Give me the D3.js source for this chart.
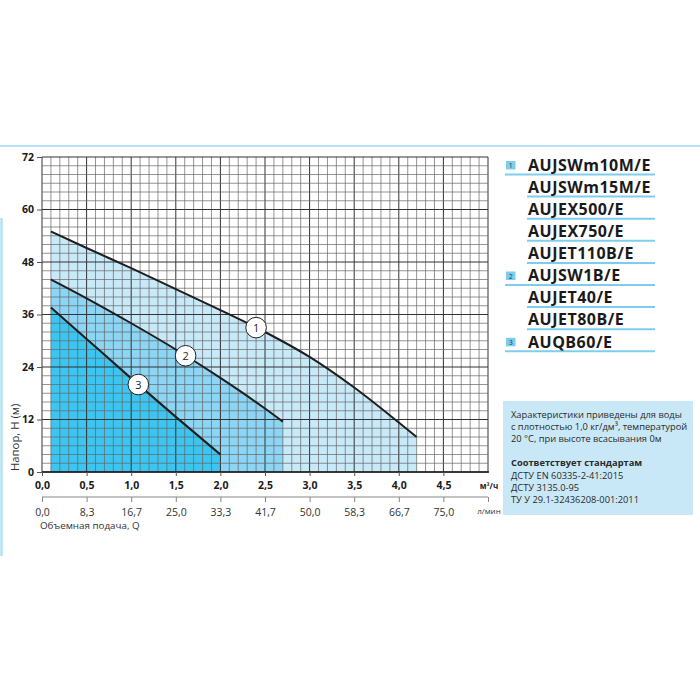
<!DOCTYPE html>
<html>
<head>
<meta charset="utf-8">
<script src="https://cdn.jsdelivr.net/npm/d3@7"></script>
<style>
  body { margin: 0; background: white; }
  text { font-family: 'Open Sans', sans-serif; }
</style>
</head>
<body>
<div id="chart"></div>
<script>
const curve1Q = [0.1, 0.5, 1.0, 1.5, 2.0, 2.5, 3.0, 3.5, 4.0, 4.2];
const curve1H = [55, 51.2, 46.6, 41.8, 37, 32, 26.3, 19.3, 11.3, 8];
const curve2Q = [0.1, 0.5, 1.0, 1.5, 2.0, 2.5, 2.7];
const curve2H = [44, 39.7, 34, 28, 21.5, 14.5, 11.5];
const curve3Q = [0.1, 0.5, 1.0, 1.5, 2.0];
const curve3H = [37.6, 30.4, 21.4, 12.6, 4];

const curveLabels = ['1', '2', '3'];
const labelQ = [2.4, 1.61, 1.08];

const yTicks = [0, 12, 24, 36, 48, 60, 72];
const xTicks = [0, 0.5, 1.0, 1.5, 2.0, 2.5, 3.0, 3.5, 4.0, 4.5];
const lminTicks = [0, 0.5, 1.0, 1.5, 2.0, 2.5, 3.0, 3.5, 4.0, 4.5, 5.0];
const lminLabels = ['0,0', '8,3', '16,7', '25,0', '33,3', '41,7', '50,0', '58,3', '66,7', '75,0', ''];

const models = ['AUJSWm10M/E', 'AUJSWm15M/E', 'AUJEX500/E', 'AUJEX750/E', 'AUJET110B/E',
  'AUJSW1B/E', 'AUJET40/E', 'AUJET80B/E', 'AUQB60/E'];
const modelGroup = ['1', '', '', '', '', '2', '', '', '3'];

const noteLines = ['Характеристики приведены для воды', 'с плотностью 1,0 кг/дм³, температурой',
  '20 °C, при высоте всасывания 0м', '', 'Соответствует стандартам',
  'ДСТУ EN 60335-2-41:2015', 'ДСТУ 3135.0-95', 'ТУ У 29.1-32436208-001:2011'];

const w = 700;
const h = 700;
const padL = 42, padR = 488, padT = 157, padB = 472;

const svg = d3.select('#chart').append('svg').attr('width', w).attr('height', h);

const xScale = d3.scaleLinear().domain([0, 5]).range([padL, padR]);
const yScale = d3.scaleLinear().domain([0, 72]).range([padB, padT]);

// frame lines
svg.append('line').attr('x1', 0).attr('x2', w).attr('y1', 146).attr('y2', 146)
  .attr('stroke', '#b3e1f5').attr('stroke-width', 2);
svg.append('line').attr('x1', 1.5).attr('x2', 1.5).attr('y1', 218).attr('y2', 556)
  .attr('stroke', '#b3e1f5').attr('stroke-width', 2.5);

const series = [
  { q: curve1Q, h: curve1H, fill: '#c8e9f8' },
  { q: curve2Q, h: curve2H, fill: '#8cd5f4' },
  { q: curve3Q, h: curve3H, fill: '#3cc5f0' },
].map((s) => ({ ...s, pts: s.q.map((q, i) => [q, s.h[i]]) }));

const area = d3.area()
  .x((d) => xScale(d[0]))
  .y0(yScale(0))
  .y1((d) => yScale(d[1]))
  .curve(d3.curveMonotoneX);

svg.selectAll('path.area').data(series).enter().append('path')
  .attr('class', 'area')
  .attr('d', (d) => area(d.pts))
  .attr('fill', (d) => d.fill);

// grid
const gx = d3.range(0, 51).map((i) => i / 10);
const gy = d3.range(0, 37).map((i) => i * 2);
svg.append('g').selectAll('line').data(gx).enter().append('line')
  .attr('x1', (d) => xScale(d)).attr('x2', (d) => xScale(d))
  .attr('y1', padT).attr('y2', padB)
  .attr('stroke', (d, i) => (i % 5 === 0 ? '#333' : '#666'))
  .attr('stroke-width', (d, i) => (i % 5 === 0 ? 1 : 0.7));
svg.append('g').selectAll('line').data(gy).enter().append('line')
  .attr('x1', padL).attr('x2', padR)
  .attr('y1', (d) => yScale(d)).attr('y2', (d) => yScale(d))
  .attr('stroke', (d, i) => (i % 6 === 0 ? '#333' : '#666'))
  .attr('stroke-width', (d, i) => (i % 6 === 0 ? 1 : 0.7));

// curves
const line = d3.line()
  .x((d) => xScale(d[0]))
  .y((d) => yScale(d[1]))
  .curve(d3.curveMonotoneX);

svg.selectAll('path.curve').data(series).enter().append('path')
  .attr('class', 'curve')
  .attr('d', (d) => line(d.pts))
  .attr('fill', 'none')
  .attr('stroke', '#1e1e1e')
  .attr('stroke-width', 2);

// curve number circles
const interp = (s, q) => {
  const i = d3.bisectRight(s.q, q) - 1;
  const t = (q - s.q[i]) / (s.q[i + 1] - s.q[i]);
  return s.h[i] + t * (s.h[i + 1] - s.h[i]);
};
const badges = svg.selectAll('g.badge').data(series).enter().append('g')
  .attr('class', 'badge')
  .attr('transform', (d, i) => 'translate(' + xScale(labelQ[i]) + ',' + yScale(interp(d, labelQ[i])) + ')');
badges.append('circle').attr('r', 10.3).attr('fill', 'white').attr('stroke', '#222').attr('stroke-width', 1);
badges.append('text').attr('text-anchor', 'middle').attr('y', 4)
  .attr('font-size', 11).attr('fill', '#222')
  .text((d, i) => curveLabels[i]);

// axes
svg.append('line').attr('x1', padL).attr('x2', padR + 1).attr('y1', padB).attr('y2', padB)
  .attr('stroke', '#1a1a1a').attr('stroke-width', 1.6);

const yAxis = d3.axisLeft(yScale).tickValues(yTicks).tickSize(5).tickPadding(3);
const ya = svg.append('g').attr('transform', 'translate(' + padL + ',0)').call(yAxis);
ya.select('.domain').remove();
ya.selectAll('.tick line').attr('stroke', '#555');
ya.selectAll('.tick text').attr('font-size', 10.5).attr('font-weight', 'bold')
  .attr('font-family', "'Open Sans', sans-serif").attr('fill', '#1a1a1a');

const xAxis = d3.axisBottom(xScale).tickValues(xTicks).tickSize(4).tickPadding(6)
  .tickFormat((d) => d3.format('.1f')(d).replace('.', ','));
const xa = svg.append('g').attr('transform', 'translate(0,' + padB + ')').call(xAxis);
xa.select('.domain').remove();
xa.selectAll('.tick line').attr('stroke', '#555');
xa.selectAll('.tick text').attr('font-size', 10.5).attr('font-weight', 'bold')
  .attr('font-family', "'Open Sans', sans-serif").attr('fill', '#1a1a1a');

svg.append('text').attr('x', 489).attr('y', 489).attr('text-anchor', 'middle')
  .attr('font-size', 8).attr('font-weight', 'bold').attr('fill', '#1a1a1a').text('м³/ч');

const lAxis = d3.axisBottom(xScale).tickValues(lminTicks).tickSize(5).tickPadding(7)
  .tickFormat((d, i) => lminLabels[i]);
const la = svg.append('g').attr('transform', 'translate(0,497)').call(lAxis);
la.select('.domain').attr('stroke', '#888').attr('stroke-width', 1.2).attr('d', 'M' + padL + ',0H' + padR);
la.selectAll('.tick line').attr('stroke', '#888');
la.selectAll('.tick text').attr('font-size', 10.5)
  .attr('font-family', "'Open Sans', sans-serif").attr('fill', '#333');

svg.append('text').attr('x', 489).attr('y', 514).attr('text-anchor', 'middle')
  .attr('font-size', 8).attr('fill', '#333').text('л/мин');

svg.append('text').attr('x', 40).attr('y', 529)
  .attr('font-size', 9.8).attr('fill', '#333').text('Объемная подача, Q');

svg.append('text').attr('transform', 'translate(19,471) rotate(-90)')
  .attr('font-size', 11.3).attr('fill', '#333').text('Напор, H (м)');

// legend
const legend = svg.selectAll('g.model').data(models).enter().append('g')
  .attr('class', 'model')
  .attr('transform', (d, i) => 'translate(0,' + (165 + i * 22.1) + ')');
legend.append('line')
  .attr('x1', (d, i) => (modelGroup[i] ? 505 : 527)).attr('x2', 655)
  .attr('y1', 9.5).attr('y2', 9.5)
  .attr('stroke', '#7fcdee').attr('stroke-width', 2);
legend.filter((d, i) => modelGroup[i]).append('rect')
  .attr('x', 506).attr('y', -4).attr('width', 9.5).attr('height', 8.5).attr('fill', '#7fcdee');
legend.filter((d, i) => modelGroup[i]).append('text')
  .attr('x', 510.8).attr('y', 3).attr('text-anchor', 'middle')
  .attr('font-size', 7).attr('fill', '#1a3a4a')
  .text((d) => modelGroup[models.indexOf(d)]);
legend.append('text').attr('x', 528).attr('y', 5.7)
  .attr('font-size', 16).attr('font-weight', 'bold').attr('letter-spacing', 0.5).attr('fill', '#1a1a1a')
  .text((d) => d);

// note box
svg.append('rect').attr('x', 503).attr('y', 401).attr('width', 190).attr('height', 114).attr('fill', '#c9e8f7');
svg.append('g').selectAll('text').data(noteLines).enter().append('text')
  .attr('x', 511).attr('y', (d, i) => 418 + i * 12.1)
  .attr('font-size', 9.3)
  .attr('font-weight', (d, i) => (i === 4 ? 'bold' : 'normal'))
  .attr('fill', '#2a2a2a')
  .text((d) => d);
</script>
</body>
</html>
